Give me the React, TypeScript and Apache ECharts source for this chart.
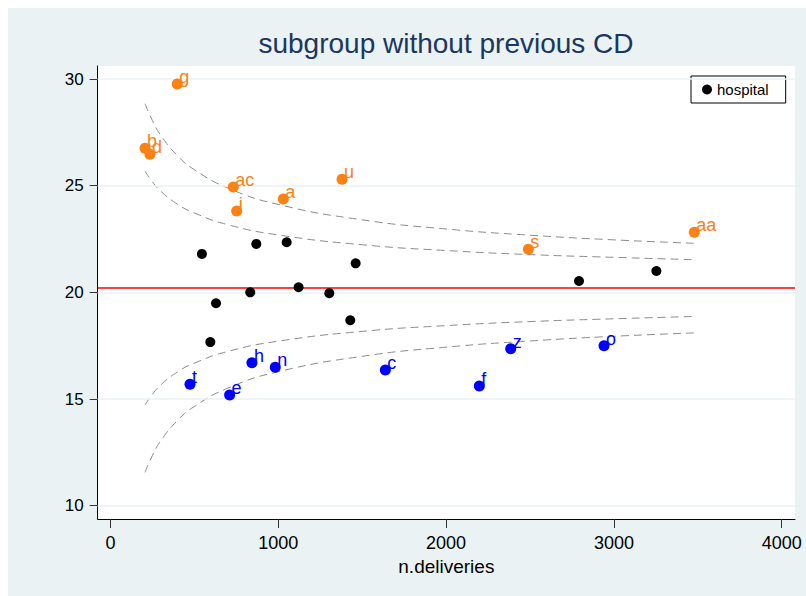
import React, { useEffect, useRef } from "react";
import * as echarts from "echarts";

const FONT = "'Liberation Sans', Arial, Helvetica, sans-serif";

const xTicks = [0, 1000, 2000, 3000, 4000];
const yTicks = [10, 15, 20, 25, 30];
const meanRate = 20.2;

// hospitals inside limits
const hospitalX = [545, 869, 1050, 1461, 629, 833, 1121, 1304, 1429, 595, 2792, 3253];
const hospitalY = [21.8, 22.27, 22.35, 21.36, 19.49, 20.0, 20.24, 19.96, 18.69, 17.67, 20.53, 21.0];

// hospitals above limits (orange)
const highNames = ["g", "b", "d", "ac", "j", "a", "u", "s", "aa"];
const highX = [398, 206, 235, 732, 752, 1030, 1380, 2490, 3479];
const highY = [29.77, 26.75, 26.47, 24.94, 23.81, 24.38, 25.3, 22.02, 22.82];

// hospitals below limits (blue)
const lowNames = ["t", "e", "h", "n", "c", "f", "z", "o"];
const lowX = [474, 710, 843, 982, 1638, 2198, 2385, 2941];
const lowY = [15.69, 15.19, 16.7, 16.49, 16.36, 15.61, 17.36, 17.5];

// funnel limits
const limitX = [206, 250, 300, 400, 500, 700, 1000, 1500, 2000, 2500, 3000, 3479];
const upper95 = [25.68, 25.18, 24.74, 24.13, 23.72, 23.17, 22.69, 22.23, 21.96, 21.77, 21.64, 21.53];
const lower95 = [14.72, 15.22, 15.66, 16.27, 16.68, 17.23, 17.71, 18.17, 18.44, 18.63, 18.76, 18.87];
const upper998 = [28.84, 28.05, 27.36, 26.4, 25.75, 24.89, 24.12, 23.4, 22.97, 22.68, 22.46, 22.3];
const lower998 = [11.56, 12.35, 13.04, 14.0, 14.65, 15.51, 16.28, 17.0, 17.43, 17.72, 17.94, 18.1];

const ORANGE = "#fa8214";
const BLUE = "#0000ff";

function curve(name: string, ys: number[]) {
  return {
    name,
    type: "line",
    data: limitX.map((x, i) => [x, ys[i]]),
    showSymbol: false,
    symbol: "none",
    smooth: true,
    silent: true,
    z: 3,
    lineStyle: { color: "#8c8c8c", width: 1, type: [8, 5] },
  };
}

function labelled(name: string, xs: number[], ys: number[], names: string[], color: string) {
  return {
    name,
    type: "scatter",
    data: xs.map((x, i) => [x, ys[i], names[i]]),
    symbol: "circle",
    symbolSize: 11,
    z: 6,
    itemStyle: { color, opacity: 1 },
    label: {
      show: true,
      formatter: (p: any) => p.value[2],
      position: [7.5, -1.5],
      align: "left",
      verticalAlign: "middle",
      color,
      fontSize: 18,
      fontFamily: FONT,
    },
  };
}

export default function App() {
  const ref = useRef<HTMLDivElement>(null);

  useEffect(() => {
    document.body.style.margin = "0";
    document.body.style.overflow = "hidden";
    if (!ref.current) return;
    const chart = echarts.init(ref.current, null, { renderer: "svg" });
    chart.setOption({
      animation: false,
      backgroundColor: "#eaf2f3",
      title: {
        text: "subgroup without previous CD",
        left: 438,
        top: 21,
        padding: 0,
        textAlign: "center",
        textStyle: { fontSize: 28, fontWeight: "normal", color: "#1c3660", fontFamily: FONT },
      },
      legend: {
        data: ["hospital"],
        left: 683,
        top: 68,
        orient: "horizontal",
        backgroundColor: "#ffffff",
        borderColor: "#000000",
        borderWidth: 1,
        borderRadius: 0,
        padding: [6, 17, 6, 11],
        itemWidth: 10,
        itemHeight: 10,
        icon: "circle",
        itemStyle: { opacity: 1 },
        textStyle: { fontSize: 15, color: "#000", fontFamily: FONT },
      },
      grid: {
        left: 89.7,
        top: 58,
        width: 697.3,
        height: 453,
        show: true,
        backgroundColor: "#ffffff",
        borderWidth: 0,
        containLabel: false,
      },
      xAxis: {
        type: "value",
        min: -76,
        max: 4079,
        name: "n.deliveries",
        nameLocation: "middle",
        nameGap: 35,
        nameTextStyle: { fontSize: 19, color: "#000", fontFamily: FONT },
        axisLine: { show: true, onZero: false, lineStyle: { color: "#000", width: 1 } },
        axisTick: { show: true, length: 9, customValues: xTicks, lineStyle: { color: "#333", width: 1 } },
        axisLabel: {
          customValues: xTicks,
          formatter: (v: number) => String(v),
          fontSize: 18,
          color: "#000",
          fontFamily: FONT,
          margin: 15,
        },
        splitLine: { show: false },
      },
      yAxis: {
        type: "value",
        min: 9.375,
        max: 30.61,
        axisLine: { show: true, onZero: false, lineStyle: { color: "#000", width: 1 } },
        axisTick: { show: true, length: 8, customValues: yTicks, lineStyle: { color: "#333", width: 1 } },
        axisLabel: {
          customValues: yTicks,
          formatter: (v: number) => String(v),
          fontSize: 17,
          color: "#000",
          fontFamily: FONT,
          margin: 14,
        },
        splitLine: { show: false },
      },
      series: [
        {
          name: "grid",
          type: "line",
          data: [],
          silent: true,
          z: 1,
          markLine: {
            silent: true,
            symbol: "none",
            label: { show: false },
            lineStyle: { color: "#eaf2f3", width: 1.5, type: "solid" },
            data: yTicks.map((v) => ({ yAxis: v })),
          },
        },
        {
          name: "mean",
          type: "line",
          data: [],
          silent: true,
          z: 2,
          markLine: {
            silent: true,
            symbol: "none",
            label: { show: false },
            lineStyle: { color: "#ff0000", width: 1.5, type: "solid" },
            data: [{ yAxis: meanRate }],
          },
        },
        curve("u95", upper95),
        curve("l95", lower95),
        curve("u998", upper998),
        curve("l998", lower998),
        {
          name: "hospital",
          type: "scatter",
          data: hospitalX.map((x, i) => [x, hospitalY[i]]),
          symbol: "circle",
          symbolSize: 10,
          z: 5,
          itemStyle: { color: "#000000", opacity: 1 },
        },
        labelled("high", highX, highY, highNames, ORANGE),
        labelled("low", lowX, lowY, lowNames, BLUE),
      ],
    });
    return () => chart.dispose();
  }, []);

  return (
    <div style={{ position: "relative", width: 806, height: 596, background: "#ffffff", overflow: "hidden" }}>
      <div ref={ref} style={{ position: "absolute", left: 8, top: 8, width: 798, height: 588 }} />
    </div>
  );
}
